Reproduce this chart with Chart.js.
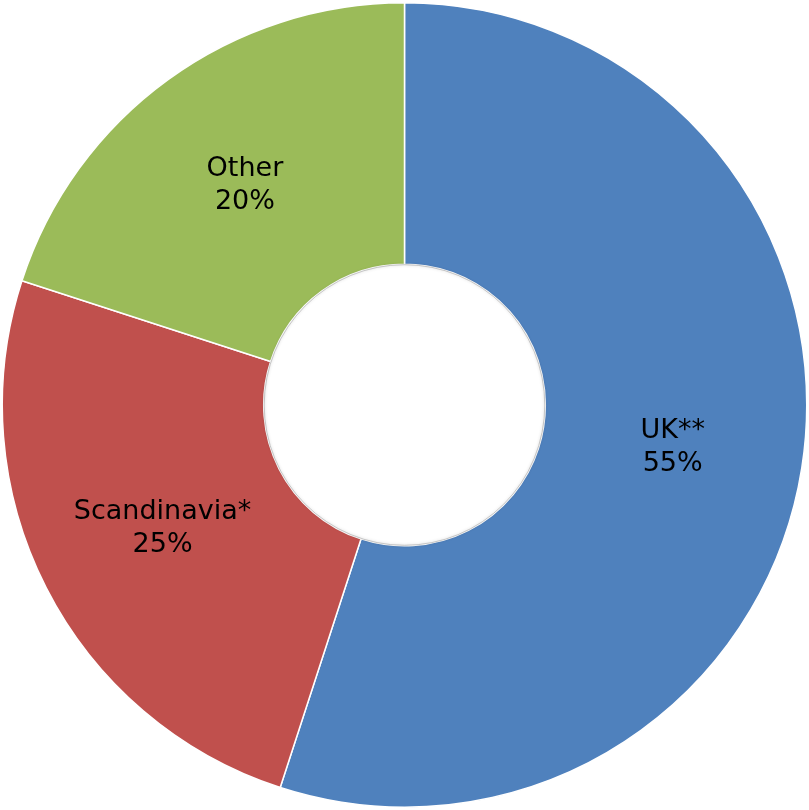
<!DOCTYPE html>
<html>
<head>
<meta charset="utf-8">
<script src="https://cdn.jsdelivr.net/npm/chart.js@4/dist/chart.umd.min.js"></script>
<style>
  html, body { margin: 0; padding: 0; background: #ffffff; }
  #wrap { width: 809px; height: 810px; position: relative; }
</style>
</head>
<body>
<div id="wrap"><canvas id="c"></canvas></div>
<script>
// Revenue split by region
const regions = ['UK**', 'Scandinavia*', 'Other'];
const shares = [55, 25, 20];
const sliceColors = ['#4F81BD', '#C0504D', '#9BBB59'];

// Soft grey rim around the hole of the ring
const holeRim = {
  id: 'holeRim',
  afterDatasetsDraw(chart) {
    const arc = chart.getDatasetMeta(0).data[0];
    if (!arc) return;
    const { ctx } = chart;
    ctx.save();
    ctx.beginPath();
    ctx.arc(arc.x, arc.y, arc.innerRadius - 0.5, 0, Math.PI * 2);
    ctx.strokeStyle = 'rgba(160,160,160,0.55)';
    ctx.lineWidth = 1;
    ctx.shadowColor = 'rgba(0,0,0,0.35)';
    ctx.shadowBlur = 3;
    ctx.stroke();
    ctx.restore();
  }
};

// Writes "name / share%" in the middle of each ring segment
const sliceLabels = {
  id: 'sliceLabels',
  afterDatasetsDraw(chart) {
    const { ctx } = chart;
    const meta = chart.getDatasetMeta(0);
    ctx.save();
    ctx.font = '27px "DejaVu Sans", Verdana, sans-serif';
    ctx.fillStyle = '#000000';
    ctx.textAlign = 'center';
    ctx.textBaseline = 'middle';
    meta.data.forEach((arc, i) => {
      const p = arc.tooltipPosition();
      ctx.fillText(regions[i], p.x, p.y - 16.5);
      ctx.fillText(shares[i] + '%', p.x, p.y + 16.5);
    });
    ctx.restore();
  }
};

new Chart(document.getElementById('c'), {
  type: 'doughnut',
  data: {
    labels: regions,
    datasets: [{
      data: shares,
      backgroundColor: sliceColors,
      borderColor: '#ffffff',
      borderWidth: 1.5,
      hoverOffset: 0
    }]
  },
  options: {
    responsive: true,
    maintainAspectRatio: false,
    animation: false,
    cutout: '35%',
    layout: { padding: { left: 1, right: 1, top: 2, bottom: 2 } },
    plugins: {
      legend: { display: false },
      tooltip: { enabled: false }
    }
  },
  plugins: [holeRim, sliceLabels]
});
</script>
</body>
</html>
